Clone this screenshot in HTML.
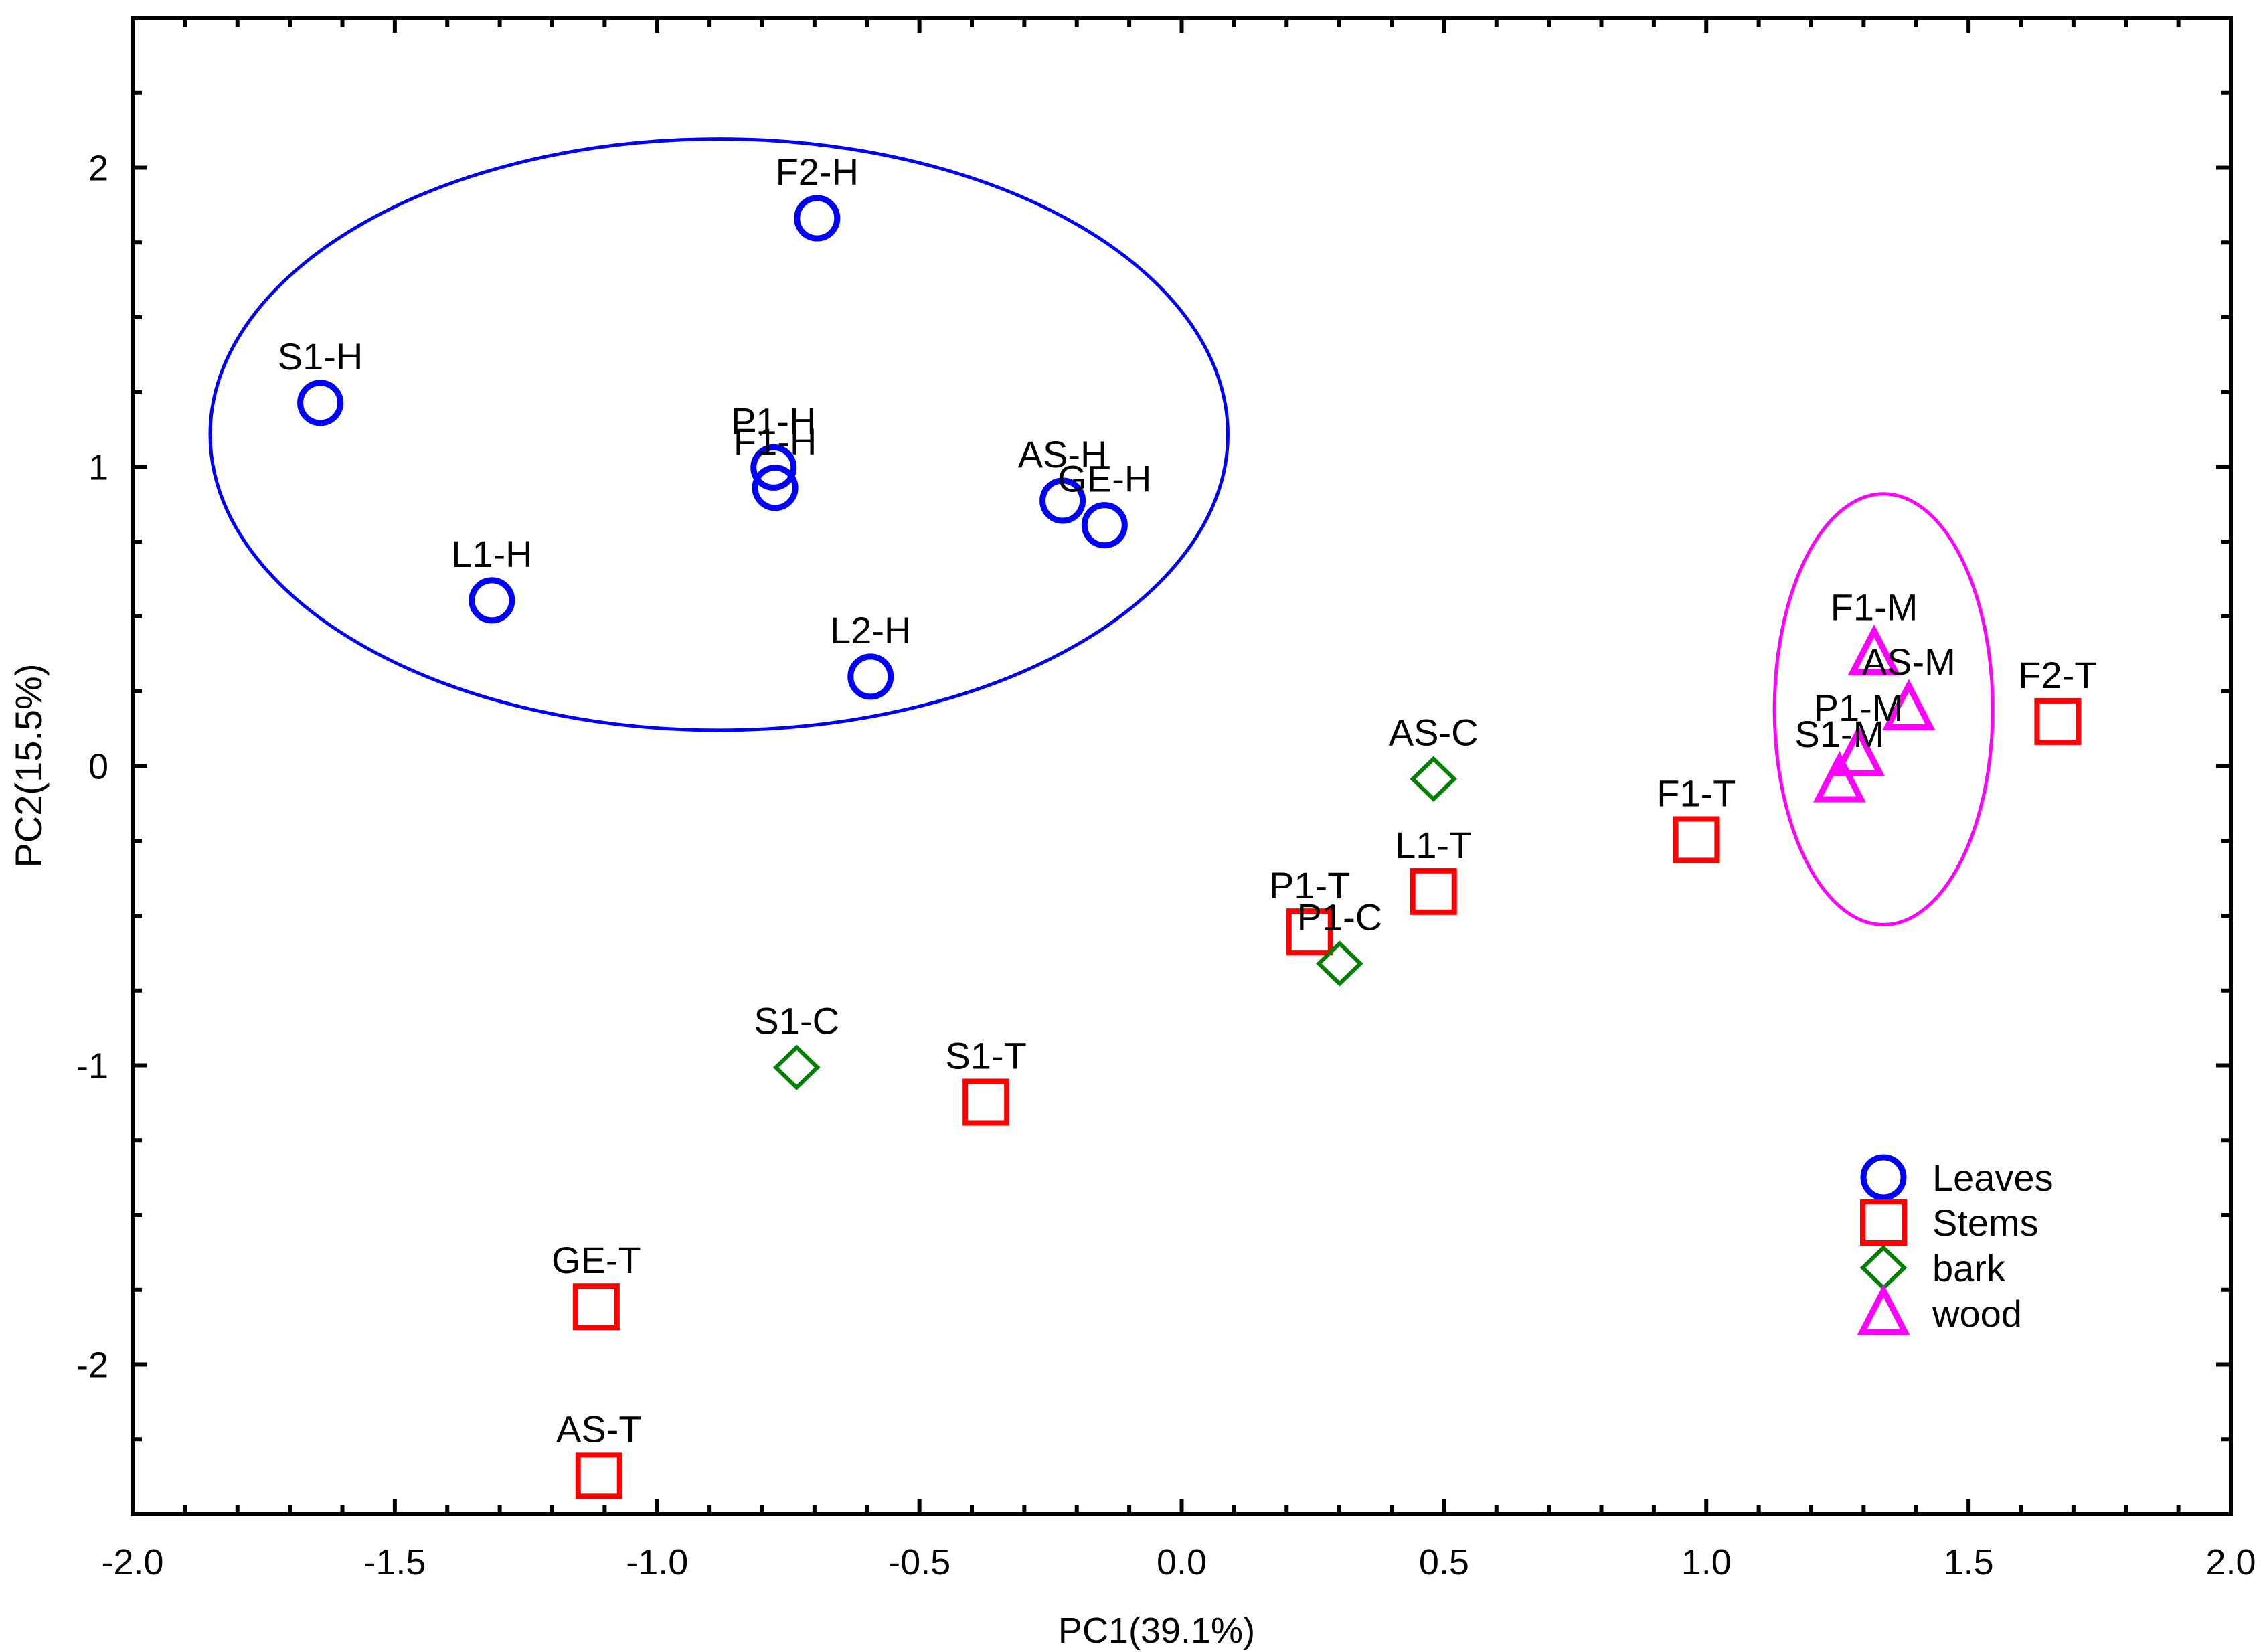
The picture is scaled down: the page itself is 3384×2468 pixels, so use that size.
<!DOCTYPE html>
<html><head><meta charset="utf-8"><style>
html,body{margin:0;padding:0;background:#fff;}
svg{display:block;font-family:"Liberation Sans",Arial,sans-serif;}
</style></head><body>
<svg id="chart" width="3384" height="2468" viewBox="0 0 3384 2468" xmlns="http://www.w3.org/2000/svg">
<rect x="0" y="0" width="3384" height="2468" fill="#fff"/>
<g id="ellipses"></g>
<g id="marks"></g>
<g id="axes"></g>
<g id="legend"></g>
<text x="1728" y="2454" font-size="54" text-anchor="middle">PC1(39.1%)</text>
<text transform="translate(62,1144) rotate(-90)" font-size="56" text-anchor="middle">PC2(15.5%)</text>
</svg>
<script>
const leafNames = ["S1-H","F2-H","P1-H","F1-H","AS-H","GE-H","L1-H","L2-H"];
const leafX = [-1.642,-0.695,-0.778,-0.775,-0.227,-0.147,-1.315,-0.593];
const leafY = [1.214,1.831,0.998,0.930,0.887,0.805,0.554,0.299];
const stemNames = ["F2-T","F1-T","L1-T","P1-T","S1-T","GE-T","AS-T"];
const stemX = [1.670,0.981,0.480,0.244,-0.373,-1.116,-1.111];
const stemY = [0.149,-0.246,-0.419,-0.554,-1.123,-1.807,-2.371];
const barkNames = ["AS-C","P1-C","S1-C"];
const barkX = [0.480,0.301,-0.734];
const barkY = [-0.043,-0.660,-1.007];
const woodNames = ["F1-M","AS-M","P1-M","S1-M"];
const woodX = [1.320,1.386,1.290,1.254];
const woodY = [0.376,0.193,0.039,-0.048];
const xTicks = [-2.0,-1.5,-1.0,-0.5,0.0,0.5,1.0,1.5,2.0];
const xTickLabels = ["-2.0","-1.5","-1.0","-0.5","0.0","0.5","1.0","1.5","2.0"];
const yTicks = [-2,-1,0,1,2];
const yTickLabels = ["-2","-1","0","1","2"];
const leafEllipse = [-0.882,1.108,0.970,0.988];
const woodEllipse = [1.338,0.190,0.208,0.720];

const NS="http://www.w3.org/2000/svg";
const L=198,R=3333,T=27,B=2262;
const X0=-2,X1=2,Y0=-2.5,Y1=2.5;
function sx(v){return L+(v-X0)/(X1-X0)*(R-L);}
function sy(v){return B-(v-Y0)/(Y1-Y0)*(B-T);}
function mk(tag,attrs,parent){const e=document.createElementNS(NS,tag);for(const k in attrs)e.setAttribute(k,attrs[k]);parent.appendChild(e);return e;}
const axes=document.getElementById('axes'),marks=document.getElementById('marks'),ell=document.getElementById('ellipses'),leg=document.getElementById('legend');

let e1=mk('ellipse',{cx:sx(leafEllipse[0]),cy:sy(leafEllipse[1]),rx:sx(leafEllipse[2])-sx(0),ry:sy(0)-sy(leafEllipse[3]),fill:'none',stroke:'#0000ff','stroke-width':5},ell);


let e2=mk('ellipse',{cx:sx(woodEllipse[0]),cy:sy(woodEllipse[1]),rx:sx(woodEllipse[2])-sx(0),ry:sy(0)-sy(woodEllipse[3]),fill:'none',stroke:'#ff00ff','stroke-width':5},ell);



function drawMarker(type,cx,cy,g){
  if(type==='circle') return mk('circle',{cx:cx,cy:cy,r:30,fill:'none',stroke:'#0000ff','stroke-width':9},g);
  if(type==='square') return mk('rect',{x:cx-31,y:cy-31,width:62,height:62,fill:'none',stroke:'#ff0000','stroke-width':8},g);
  if(type==='diamond') return mk('polygon',{points:`${cx},${cy-30} ${cx+31},${cy} ${cx},${cy+30} ${cx-31},${cy}`,fill:'none',stroke:'#008000','stroke-width':6},g);
  return mk('polygon',{points:`${cx},${cy-34} ${cx+32},${cy+28} ${cx-32},${cy+28}`,fill:'none',stroke:'#ff00ff','stroke-width':9},g);
}
function series(names,xs,ys,type,key){
  for(let i=0;i<names.length;i++){
    const cx=sx(xs[i]),cy=sy(ys[i]);
    const m=drawMarker(type,cx,cy,marks);
    
    
    const t=mk('text',{x:cx,y:cy-50,'font-size':56,'text-anchor':'middle'},marks);
    t.textContent=names[i];
    
    
  }
}
series(leafNames,leafX,leafY,'circle','leaves');
series(stemNames,stemX,stemY,'square','stems');
series(barkNames,barkX,barkY,'diamond','bark');
series(woodNames,woodX,woodY,'triangle','wood');

const fr=mk('rect',{x:L,y:T,width:R-L,height:B-T,fill:'none',stroke:'#000','stroke-width':6},axes);


for(let k=0;k<=40;k++){
  const v=X0+k*0.1, px=sx(v), major=(k%5===0), len=major?22:14;
  mk('line',{x1:px,y1:B,x2:px,y2:B-len,stroke:'#000','stroke-width':6},axes);
  mk('line',{x1:px,y1:T,x2:px,y2:T+len,stroke:'#000','stroke-width':6},axes);
}
for(let k=0;k<=20;k++){
  const v=Y0+k*0.25, py=sy(v), major=(Math.abs(v-Math.round(v))<1e-6), len=major?22:14;
  mk('line',{x1:L,y1:py,x2:L+len,y2:py,stroke:'#000','stroke-width':6},axes);
  mk('line',{x1:R,y1:py,x2:R-len,y2:py,stroke:'#000','stroke-width':6},axes);
}
for(let i=0;i<xTicks.length;i++){
  const t=mk('text',{x:sx(xTicks[i]),y:2352,'font-size':54,'text-anchor':'middle'},axes);
  t.textContent=xTickLabels[i];
  
  
}
for(let i=0;i<yTicks.length;i++){
  const t=mk('text',{x:162,y:sy(yTicks[i])+19,'font-size':54,'text-anchor':'end'},axes);
  t.textContent=yTickLabels[i];
  
  
}
const legNames=["Leaves","Stems","bark","wood"],legTypes=["circle","square","diamond","triangle"],legY=[1759,1826,1894,1962];
for(let i=0;i<4;i++){
  const m=drawMarker(legTypes[i],2814,legY[i],leg);
  
  
  const t=mk('text',{x:2887,y:legY[i]+20,'font-size':56},leg);
  t.textContent=legNames[i];
  
  
}
</script>
</body></html>
